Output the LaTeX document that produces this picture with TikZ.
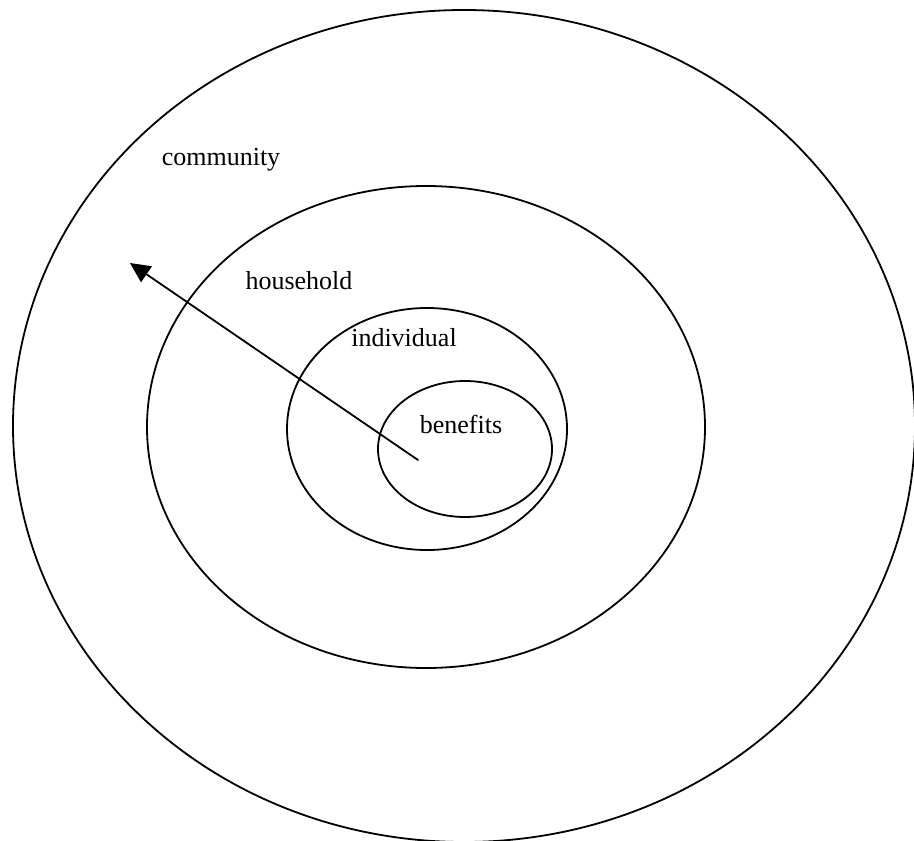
\documentclass[tikz,border=0pt]{standalone}
\usepackage{fontspec}
\setmainfont{Liberation Serif}
\usetikzlibrary{arrows.meta}
\begin{document}
\begin{tikzpicture}[x=0.5pt,y=-0.5pt,>={Triangle[length=10pt,width=9.5pt]}, font=\fontsize{13}{15}\selectfont, line join=round, line cap=round]
  \useasboundingbox (0,0) rectangle (914,840);
  \def\lw{0.9pt} % line width
  % rings
  \draw[line width=\lw] (464,426) ellipse [x radius=451, y radius=416];
  \draw[line width=\lw] (426,427) ellipse [x radius=279, y radius=241];
  \draw[line width=\lw] (427,429) ellipse [x radius=140, y radius=121];
  \draw[line width=\lw] (465,449) ellipse [x radius=87, y radius=68];
  % labels
  \node (community) at (221,160) {community};
  \node (household) at (299,281) {household};
  \node (individual) at (404,338) {individual};
  \node (benefits) at (461,424) {benefits};
  % arrow
  \coordinate (tail) at (418,460);
  \coordinate (tip) at (130,263);
  \draw[->, line width=\lw] (tail) -- (tip);
 \end{tikzpicture}
\end{document}
